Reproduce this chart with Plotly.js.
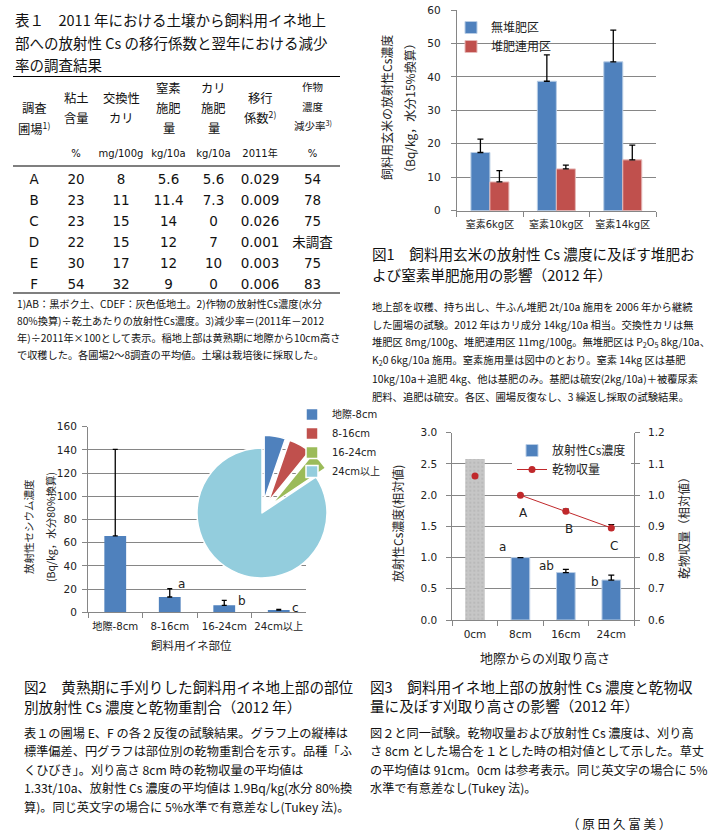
<!DOCTYPE html>
<html><head><meta charset="utf-8">
<script src="https://cdn.plot.ly/plotly-3.0.1.min.js"></script>
<style>html,body{margin:0;padding:0;background:#fff}#chart{width:710px;height:835px}</style>
</head><body><div id="chart"></div>
<script>
// ---------- Table 1 ----------
const tblFields = ['A','B','C','D','E','F'];
const tblClay = [20,23,23,22,30,54];
const tblExchK = [8,11,15,15,17,32];
const tblNFert = ['5.6','11.4','14','12','12','9'];
const tblKFert = ['5.6','7.3','0','7','10','0'];
const tblTransfer = ['0.029','0.009','0.026','0.001','0.003','0.006'];
const tblReduction = ['54','78','75','未調査','75','83'];
const tblUnits = [' ', '%', 'mg/100g', 'kg/10a', 'kg/10a', '2011年', '%'];
const tblHeaders = [['調査','圃場<sup>1)</sup>'], ['粘土','含量'], ['交換性','カリ'], ['窒素','施肥','量'], ['カリ','施肥','量'], ['移行','係数<sup>2)</sup>'], ['作物','濃度','減少率<sup>3)</sup>']];
const tblTitle = ['表１　2011 年における土壌から飼料用イネ地上', '部への放射性 Cs の移行係数と翌年における減少', '率の調査結果'];
const tblNotes = ['1)AB：黒ボク土、CDEF：灰色低地土。2)作物の放射性Cs濃度(水分', '80%換算)÷乾土あたりの放射性Cs濃度。3)減少率＝(2011年－2012', '年)÷2011年×100として表示。稲地上部は黄熟期に地際から10cm高さ', 'で収穫した。各圃場2～8調査の平均値。土壌は栽培後に採取した。'];

// ---------- Figure 1 ----------
const fig1Cats = ['窒素6kg区','窒素10kg区','窒素14kg区'];
const fig1Names = ['無堆肥区','堆肥連用区'];
const fig1NoCompost = [17.4, 38.7, 44.5];
const fig1NoCompostErr = [4.0, 7.9, 9.5];
const fig1Compost = [8.6, 12.5, 15.2];
const fig1CompostErr = [3.4, 1.1, 4.4];
const fig1YTitle = ['飼料用玄米の放射性Cs濃度', '（Bq/kg，水分15%換算）'];
const fig1Caption = ['図1　飼料用玄米の放射性 Cs 濃度に及ぼす堆肥お', 'よび窒素単肥施用の影響（2012 年）'];
const fig1Desc = ['地上部を収穫、持ち出し、牛ふん堆肥 2t/10a 施用を 2006 年から継続', 'した圃場の試験。2012 年はカリ成分 14kg/10a 相当。交換性カリは無', '堆肥区 8mg/100g、堆肥連用区 11mg/100g。無堆肥区は P<sub>2</sub>O<sub>5</sub> 8kg/10a、', 'K<sub>2</sub>0 6kg/10a 施用。窒素施用量は図中のとおり。窒素 14kg 区は基肥', '10kg/10a＋追肥 4kg、他は基肥のみ。基肥は硫安(2kg/10a)＋被覆尿素', '肥料、追肥は硫安。各区、圃場反復なし、3 繰返し採取の試験結果。'];

// ---------- Figure 2 ----------
const fig2Cats = ['地際-8cm','8-16cm','16-24cm','24cm以上'];
const fig2Cs = [65.8, 13.2, 6.0, 2.0];
const fig2CsSD = [74.7, 7.1, 4.3, 0.6];
const fig2Letters = ['', 'a', 'b', 'c'];
const fig2Share = [5.3, 5.6, 4.7, 84.4];
const fig2YTitle = ['放射性セシウム濃度', '(Bq/kg，水分80%換算)'];
const fig2XTitle = '飼料用イネ部位';
const fig2Caption = ['図2　黄熟期に手刈りした飼料用イネ地上部の部位', '別放射性 Cs 濃度と乾物重割合（2012 年）'];
const fig2Desc = ['表１の圃場 E、F の各２反復の試験結果。グラフ上の縦棒は', '標準偏差、円グラフは部位別の乾物重割合を示す。品種「ふ', 'くひびき」。刈り高さ 8cm 時の乾物収量の平均値は', '1.33t/10a、放射性 Cs 濃度の平均値は 1.9Bq/kg(水分 80%換', '算)。同じ英文字の場合に 5%水準で有意差なし(Tukey 法)。'];

// ---------- Figure 3 ----------
const fig3Cats = ['0cm','8cm','16cm','24cm'];
const fig3Cs = [2.58, 1.0, 0.76, 0.64];
const fig3CsErr = [0, 0, 0.05, 0.08];
const fig3CsLetters = ['', 'a', 'ab', 'b'];
const fig3Yield = [1.061, 1.0, 0.948, 0.895];
const fig3YieldErr = [0, 0, 0.007, 0.011];
const fig3YieldLetters = ['', 'A', 'B', 'C'];
const fig3Names = ['放射性Cs濃度', '乾物収量'];
const fig3YTitleL = '放射性Cs濃度(相対値)';
const fig3YTitleR = '乾物収量（相対値）';
const fig3XTitle = '地際からの刈取り高さ';
const fig3Caption = ['図3　飼料用イネ地上部の放射性 Cs 濃度と乾物収', '量に及ぼす刈取り高さの影響（2012 年）'];
const fig3Desc = ['図２と同一試験。乾物収量および放射性 Cs 濃度は、刈り高', 'さ 8cm とした場合を１とした時の相対値として示した。草丈', 'の平均値は 91cm。0cm は参考表示。同じ英文字の場合に 5%', '水準で有意差なし(Tukey 法)。'];
const author = '（ 原 田 久 富 美 ）';

// ---------- helpers ----------
const W = 710, H = 835;
const X = p => p / W, Y = p => 1 - p / H;
const CJK = 'Noto Sans CJK JP, sans-serif';
const LAT = 'DejaVu Sans, Noto Sans CJK JP, sans-serif';
const INK = '#111';
const GRID = '#868686';
const BLUE = '#4F81BD', RED = '#C0504D', GREEN = '#9BBB59', LBLUE = '#93CDDD';

function txt(text, x, y, size, extra) {
  return Object.assign({xref:'paper', yref:'paper', x:X(x), y:Y(y), xanchor:'left', yanchor:'middle',
    showarrow:false, text:text, font:{family:CJK, size:size, color:INK}}, extra || {});
}
const ann = [];
function block(lines, x, y0, dy, size, extra) {
  lines.forEach((l, i) => ann.push(txt(l, x, y0 + i * dy, size, extra)));
}

// text blocks
block(tblTitle, 13, 20, 22, 14.5);
block(tblNotes, 15, 303, 17.2, 10.2);
block(fig1Caption, 370, 253, 21, 14.6);
block(fig1Desc, 370, 306, 18, 10.3);
block(fig2Caption, 22, 686, 20.5, 14.6);
block(fig2Desc, 22, 733, 18.4, 12.2);
block(fig3Caption, 368, 686, 19, 14.6);
block(fig3Desc, 368, 733, 18.4, 12.2);
ann.push(txt(author, 565, 823, 12.5));

// table header labels
const colCenters = [34, 76, 121, 168.5, 213.5, 260, 312.5];
const headerYs = [[108,128],[98,118],[98,118],[88,108,128],[88,108,128],[98,118],[87,106,125]];
tblHeaders.forEach((lines, c) => lines.forEach((l, k) => ann.push(txt(l, colCenters[c], headerYs[c][k], c === 6 ? 10.5 : 12.3, {xanchor:'center'}))));

// axis titles
const axT = (s) => ({family:CJK, size:s, color:'#222'});
ann.push(txt(fig1YTitle[0], 387, 108, 12, {xanchor:'center', textangle:-90, font:axT(12)}));
ann.push(txt(fig1YTitle[1], 410, 108, 12, {xanchor:'center', textangle:-90, font:axT(12)}));
ann.push(txt(fig2YTitle[0], 28, 527, 10.5, {xanchor:'center', textangle:-90, font:axT(10.5)}));
ann.push(txt(fig2YTitle[1], 50, 527, 10.5, {xanchor:'center', textangle:-90, font:axT(10.5)}));
ann.push(txt(fig2XTitle, 192, 645, 11.5, {xanchor:'center', font:axT(11.5)}));
ann.push(txt(fig3YTitleL, 397, 524, 12, {xanchor:'center', textangle:-90, font:axT(12)}));
ann.push(txt(fig3YTitleR, 683, 525, 12, {xanchor:'center', textangle:-90, font:axT(12)}));
ann.push(txt(fig3XTitle, 545, 657, 13, {xanchor:'center', font:axT(13)}));

// significance letters (text labels anchored to data)
const f2shift = [[0,0],[12,5],[18,-1],[17,1]];
fig2Letters.forEach((t, i) => { if (t) ann.push({xref:'x2', yref:'y2', x:fig2Cats[i], y:fig2Cs[i] + fig2CsSD[i], text:t, showarrow:false, xshift:f2shift[i][0], yshift:f2shift[i][1], font:{family:LAT,size:12,color:'#222'}}); });
const f3shift = [[0,0],[-18,11],[-19,7],[-16,-2]];
fig3CsLetters.forEach((t, i) => { if (t) ann.push({xref:'x3', yref:'y3', x:fig3Cats[i], y:fig3Cs[i], text:t, showarrow:false, xshift:f3shift[i][0], yshift:f3shift[i][1], font:{family:LAT,size:12,color:'#222'}}); });
fig3YieldLetters.forEach((t, i) => { if (t) ann.push({xref:'x3', yref:'y4', x:fig3Cats[i], y:fig3Yield[i], text:t, showarrow:false, xshift:3, yshift:-18, font:{family:LAT,size:12,color:'#222'}}); });

// rules of table
const rule = (y) => ({type:'line', xref:'paper', yref:'paper', x0:X(13), x1:X(340), y0:Y(y), y1:Y(y), line:{color:'#000', width:1.2}});
const shapes = [rule(76.5), rule(166), rule(293)];

// ---------- traces ----------
const errStyle = {color:'#000', thickness:1.3, width:3};
const traces = [
  {type:'table', domain:{x:[X(13), X(340)], y:[Y(300), Y(141)]},
   columnwidth:[42,42,48,47,43,50,55],
   header:{values:tblUnits, height:25, align:'center', line:{width:0, color:'#fff'}, fill:{color:'#fff'},
     font:{family:LAT, size:10, color:INK}},
   cells:{values:[tblFields, tblClay, tblExchK, tblNFert, tblKFert, tblTransfer, tblReduction], height:21, align:'center',
     line:{width:0, color:'#fff'}, fill:{color:'#fff'}, font:{family:LAT, size:13.5, color:INK}}},

  {type:'bar', name:fig1Names[0], x:fig1Cats, y:fig1NoCompost, xaxis:'x', yaxis:'y', width:0.286, offset:-0.286,
   marker:{color:BLUE, line:{color:'#b9cde5', width:1}}, error_y:Object.assign({type:'data', symmetric:false, array:fig1NoCompostErr, arrayminus:fig1NoCompost.map(()=>0)}, errStyle), legend:'legend'},
  {type:'bar', name:fig1Names[1], x:fig1Cats, y:fig1Compost, xaxis:'x', yaxis:'y', width:0.286, offset:0,
   marker:{color:RED, line:{color:'#e6b9b8', width:1}}, error_y:Object.assign({type:'data', symmetric:false, array:fig1CompostErr, arrayminus:fig1Compost.map(()=>0)}, errStyle), legend:'legend'},

  {type:'bar', name:'Cs', x:fig2Cats, y:fig2Cs, xaxis:'x2', yaxis:'y2', width:0.4, showlegend:false,
   marker:{color:BLUE}, error_y:Object.assign({type:'data', symmetric:false, array:fig2CsSD, arrayminus:fig2Cs.map(()=>0)}, errStyle, {width:2.5})},
  {type:'pie', labels:fig2Cats, values:fig2Share, sort:false, direction:'clockwise', rotation:0,
   domain:{x:[X(184), X(340)], y:[Y(591), Y(435)]}, pull:[0.2,0.2,0.2,0], textinfo:'none', hoverinfo:'none',
   marker:{colors:[BLUE, RED, GREEN, LBLUE], line:{color:'#fff', width:1.5}}, legend:'legend2'},

  {type:'bar', name:fig3Names[0], x:fig3Cats.slice(0,1), y:fig3Cs.slice(0,1), xaxis:'x3', yaxis:'y3', width:0.43, showlegend:false,
   marker:{color:'#c0c0c0', pattern:{shape:'.', fgcolor:'#a6a6a6', bgcolor:'#c6c6c6', size:4, solidity:0.2, fillmode:'overlay'}}, legend:'legend3'},
  {type:'bar', name:fig3Names[0], x:fig3Cats.slice(1), y:fig3Cs.slice(1), xaxis:'x3', yaxis:'y3', width:0.41,
   marker:{color:BLUE, line:{color:'#b9cde5', width:1}}, error_y:Object.assign({type:'data', symmetric:false, array:fig3CsErr.slice(1), arrayminus:fig3CsErr.slice(1).map(()=>0)}, errStyle), legend:'legend3'},
  {type:'scatter', mode:'lines+markers', name:fig3Names[1], x:fig3Cats.slice(1), y:fig3Yield.slice(1), xaxis:'x3', yaxis:'y4',
   line:{color:'#C0282B', width:1}, marker:{color:'#C0282B', size:7},
   error_y:{type:'data', symmetric:false, array:fig3YieldErr.slice(1), arrayminus:fig3YieldErr.slice(1).map(()=>0), color:'#000', thickness:1.2, width:3}, legend:'legend3'},
  {type:'scatter', mode:'markers', name:fig3Names[1], x:fig3Cats.slice(0,1), y:fig3Yield.slice(0,1), xaxis:'x3', yaxis:'y4',
   marker:{color:'#C0282B', size:7}, showlegend:false, legend:'legend3'}
];

const tickF = (s) => ({family:LAT, size:s, color:'#222'});
const catAxis = (dom, anchor, s) => ({domain:dom, anchor:anchor, type:'category', showline:true, linecolor:GRID, linewidth:1,
  ticks:'outside', tickson:'boundaries', ticklen:5, tickcolor:GRID, showgrid:false, zeroline:false, tickangle:0, tickfont:tickF(s), ticklabelstandoff:4, fixedrange:true});
const valAxis = (dom, anchor, range, dtick, s, extra) => Object.assign({domain:dom, anchor:anchor, range:range, dtick:dtick, showline:true, linecolor:GRID, linewidth:1,
  ticks:'outside', ticklen:5, tickcolor:GRID, showgrid:true, gridcolor:GRID, gridwidth:1, zeroline:false, tickfont:tickF(s), fixedrange:true}, extra || {});

const layout = {
  width:W, height:H, margin:{l:0, r:0, t:0, b:0}, paper_bgcolor:'#fff', plot_bgcolor:'rgba(0,0,0,0)',
  font:{family:CJK, color:INK}, barmode:'overlay', showlegend:true,
  xaxis: catAxis([X(456.7), X(656)], 'y', 10),
  yaxis: valAxis([Y(210.7), Y(10)], 'x', [0,60], 10, 10.5, {ticklabelstandoff:8}),
  xaxis2: catAxis([X(88), X(306)], 'y2', 10.2),
  yaxis2: valAxis([Y(612.3), Y(426.7)], 'x2', [0,160], 20, 10.5, {ticklabelstandoff:3}),
  xaxis3: catAxis([X(452.3), X(634)], 'y3', 10.5),
  yaxis3: valAxis([Y(620), Y(432.7)], 'x3', [0,3], 0.5, 10.5, {tickformat:'.1f', ticklabelstandoff:7}),
  yaxis4: valAxis([Y(620), Y(432.7)], 'x3', [0.6,1.2], 0.1, 10.5, {overlaying:'y3', side:'right', showgrid:false, tickformat:'.1f', ticklabelstandoff:6}),
  legend:{x:X(451), y:Y(13), xanchor:'left', yanchor:'top', bgcolor:'rgba(0,0,0,0)', font:{family:CJK, size:12, color:'#222'}},
  legend2:{x:X(292), y:Y(400), xanchor:'left', yanchor:'top', bgcolor:'rgba(0,0,0,0)', font:{family:LAT, size:10, color:'#222'}},
  legend3:{x:X(512), y:Y(436), xanchor:'left', yanchor:'top', bgcolor:'#fff', font:{family:CJK, size:12, color:'#222'}},
  annotations:ann, shapes:shapes
};

Plotly.newPlot('chart', traces, layout, {displayModeBar:false, staticPlot:true});
</script>
</body></html>
